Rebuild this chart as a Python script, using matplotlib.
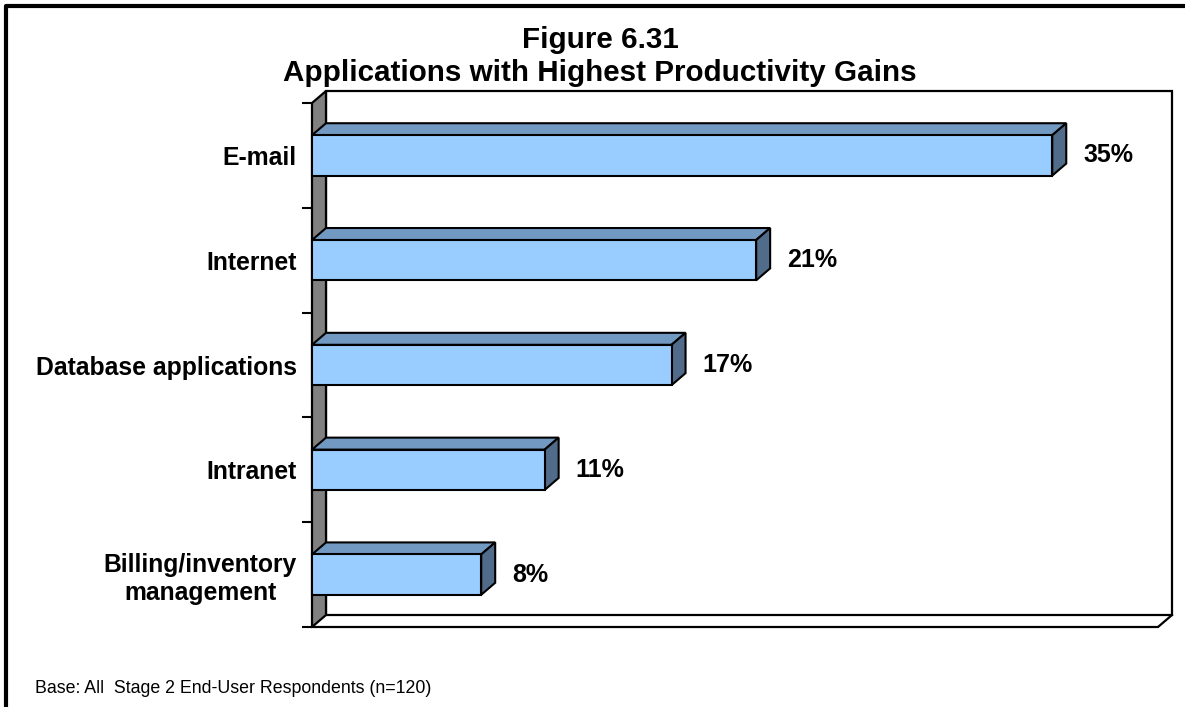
import matplotlib
matplotlib.use("Agg")
import matplotlib.pyplot as plt
from matplotlib.patches import Polygon, Rectangle
from matplotlib.lines import Line2D

# data
categories = ["E-mail", "Internet", "Database applications", "Intranet",
              "Billing/inventory\nmanagement"]
values = [35, 21, 17, 11, 8]
xmax = 40

plt.rcParams['font.family'] = ['Liberation Sans', 'DejaVu Sans']

W, H = 1185, 707
fig = plt.figure(figsize=(W / 100, H / 100), dpi=100)
fig.patch.set_facecolor("white")

# front plane of the chart box in pixels
x0, x1 = 312, 1158
y_top, y_bot = 103, 627
ax = fig.add_axes([x0 / W, (H - y_bot) / H, (x1 - x0) / W, (y_bot - y_top) / H])

n = len(categories)
ax.set_xlim(0, xmax)
ax.set_ylim(n - 0.5, -0.5)
ax.patch.set_visible(False)
for s in ax.spines.values():
    s.set_visible(False)

# depth of the 3d effect, pixels -> data units
px_x = (x1 - x0) / xmax
px_y = (y_bot - y_top) / n
dx = 14 / px_x
dy = -12 / px_y

# back wall
ax.add_patch(Rectangle((dx, -0.5 + dy), xmax, n, facecolor="white",
                       edgecolor="black", lw=1.6, clip_on=False, zorder=1))
# left wall
ax.add_patch(Polygon([(0, -0.5), (dx, -0.5 + dy), (dx, n - 0.5 + dy), (0, n - 0.5)],
                     closed=True, facecolor="#808080", edgecolor="black",
                     lw=1.6, clip_on=False, zorder=2))
# floor
ax.add_line(Line2D([0, xmax, xmax + dx], [n - 0.5, n - 0.5, n - 0.5 + dy],
                   color="black", lw=1.6, clip_on=False, zorder=2))

# bars
bh = 0.385
ypos = list(range(n))
ax.barh(ypos, values, height=bh, color="#99CCFF", edgecolor="black",
        lw=1.5, zorder=4, clip_on=False)
for y, v in zip(ypos, values):
    t = y - bh / 2
    b = y + bh / 2
    ax.add_patch(Polygon([(0, t), (v, t), (v + dx, t + dy), (dx, t + dy)],
                         closed=True, facecolor="#7299C1", edgecolor="black",
                         lw=1.5, clip_on=False, zorder=3))
    ax.add_patch(Polygon([(v, t), (v, b), (v + dx, b + dy), (v + dx, t + dy)],
                         closed=True, facecolor="#516B8A", edgecolor="black",
                         lw=1.5, clip_on=False, zorder=3))
    ax.annotate(f"{v}%", (v, y), xytext=(31 * 0.72, 0), textcoords="offset points",
                ha="left", va="center", fontsize=18, fontweight="bold")

# ticks on category boundaries, labels in between
ax.set_xticks([])
ax.set_yticks([i - 0.5 for i in range(n + 1)])
ax.set_yticklabels([])
ax.tick_params(axis="y", which="major", length=7.2, width=1.5, direction="out")
ax.set_yticks(ypos, minor=True)
ax.set_yticklabels(categories, minor=True, fontsize=17.8, fontweight="bold")
ax.tick_params(axis="y", which="minor", length=0, pad=10.8)
for lab in ax.get_yticklabels(minor=True):
    lab.set_multialignment("center")

# titles
fig.text(600 / W, 1 - 48 / H, "Figure 6.31", ha="center", va="baseline",
         fontsize=21.3, fontweight="bold")
fig.text(600 / W, 1 - 81 / H, "Applications with Highest Productivity Gains",
         ha="center", va="baseline", fontsize=21.3, fontweight="bold")

fig.text(35 / W, 1 - 693 / H, "Base: All  Stage 2 End-User Respondents (n=120)",
         ha="left", va="baseline", fontsize=12.8)

# frame around the page
fig.add_artist(Line2D([6 / W, 6 / W, 1], [0, 1 - 6 / H, 1 - 6 / H],
                      transform=fig.transFigure, color="black", lw=3))

fig.savefig("out.png", dpi=100)
